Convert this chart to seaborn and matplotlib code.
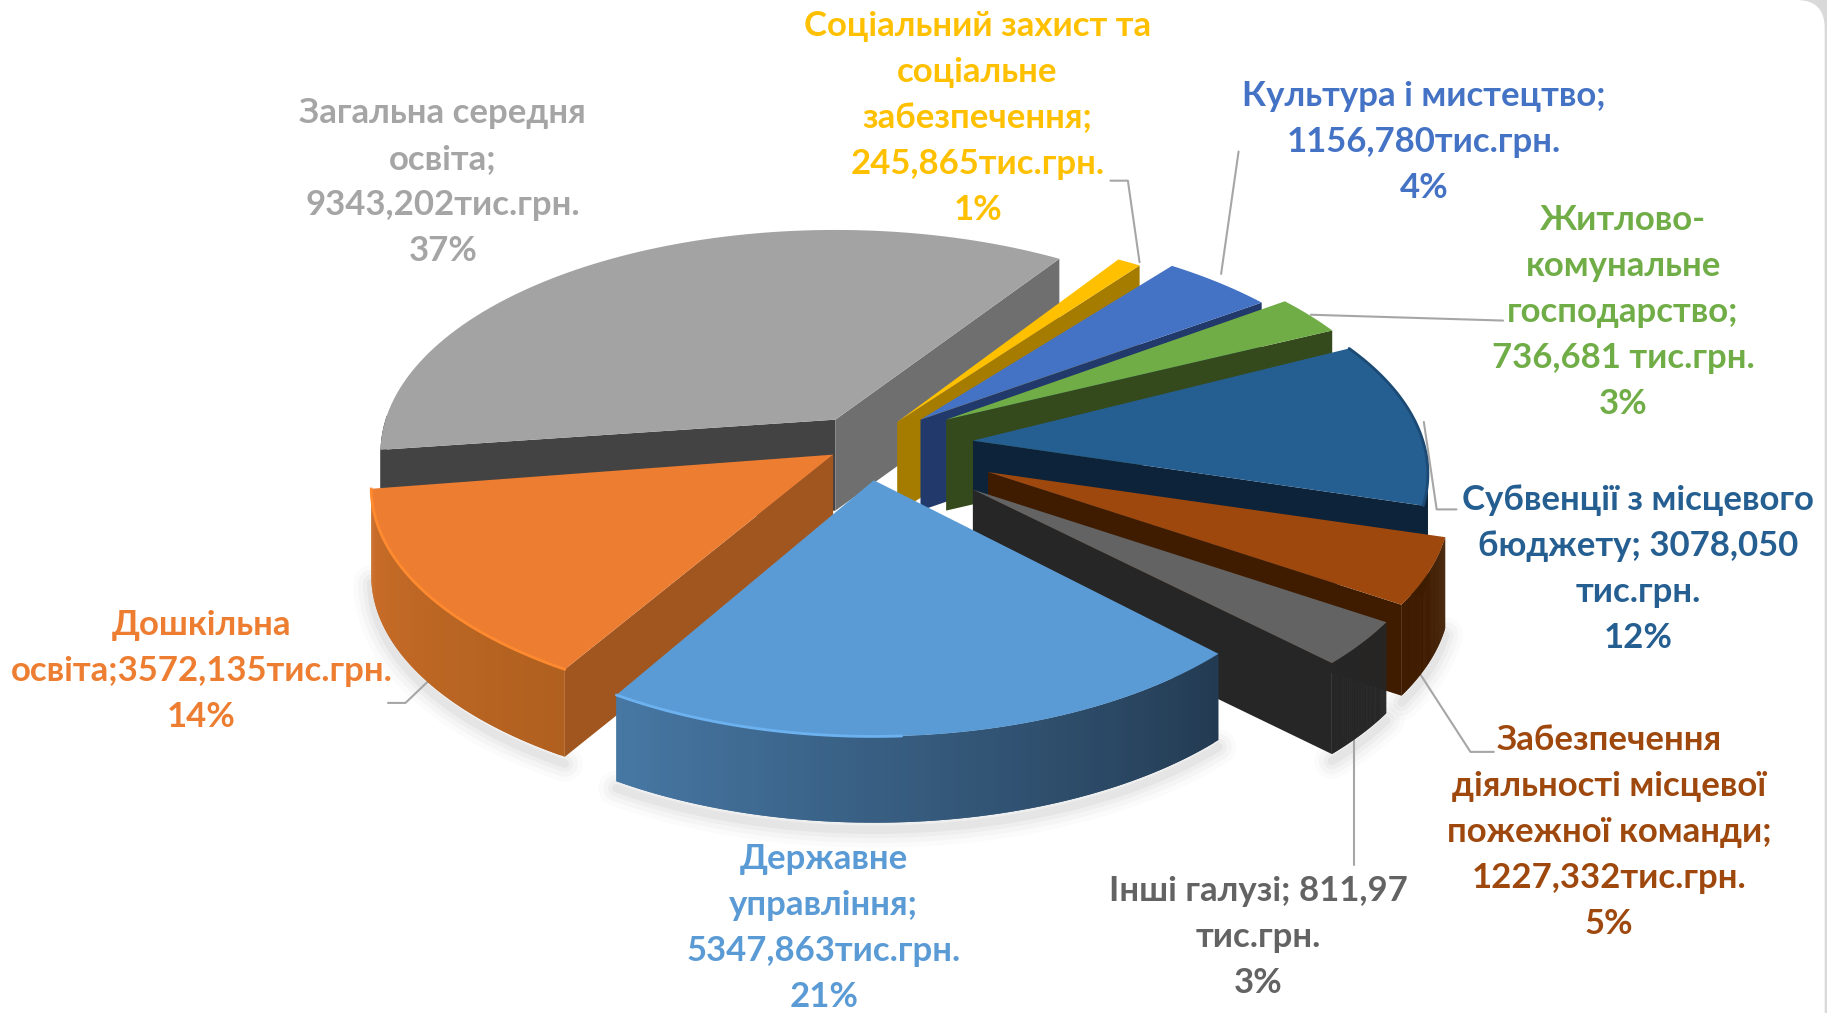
"""Exploded 3D-look pie of the budget spending."""
import numpy as np
import matplotlib
matplotlib.use("Agg")
import matplotlib.pyplot as plt
from matplotlib.patches import FancyBboxPatch
import seaborn as sns

# clockwise from the top right
names = ["Соціальний захист", "Культура", "Житлово-комунальне", "Субвенції", "Пожежна команда",
         "Інші галузі", "Державне управління", "Дошкільна освіта", "Загальна середня освіта"]
values = [245.865, 1156.780, 736.681, 3078.050, 1227.332, 811.97, 5347.863, 3572.135, 9343.202]
labels = [
    "Соціальний захист та\nсоціальне\nзабезпечення;\n245,865тис.грн.\n1%",
    "Культура і мистецтво;\n1156,780тис.грн.\n4%",
    "Житлово-\nкомунальне\nгосподарство;\n736,681 тис.грн.\n3%",
    "Субвенції з місцевого\nбюджету; 3078,050\nтис.грн.\n12%",
    "Забезпечення\nдіяльності місцевої\nпожежної команди;\n1227,332тис.грн.\n5%",
    "Інші галузі; 811,97\nтис.грн.\n3%",
    "Державне\nуправління;\n5347,863тис.грн.\n21%",
    "Дошкільна\nосвіта;3572,135тис.грн.\n14%",
    "Загальна середня\nосвіта;\n9343,202тис.грн.\n37%",
]

# styles, same order as values
top_colors = sns.color_palette(["#FFC000", "#4472C4", "#70AD47", "#255E91", "#9E480E",
                                "#636363", "#5B9BD5", "#ED7D31", "#A3A3A3"])
wall_lo = ["#A67C00", "#22396B", "#344A1C", "#0D2339", "#3F1C00",
           "#262626", "#243D54", "#A0561E", "#6F6F6F"]
wall_hi = ["#A67C00", "#22396B", "#344A1C", "#0D2339", "#3F1C00",
           "#262626", "#243D54", "#A0561E", "#434343"]
outer_left = ["#A67C00", "#22396B", "#344A1C", "#0D2339", "#3F1C00",
              "#262626", "#4778A5", "#CC6E2A", "#434343"]
outer_right = ["#A67C00", "#22396B", "#344A1C", "#0D2339", "#3F1C00",
               "#262626", "#233B52", "#B0601F", "#434343"]
rim_colors = [None, None, None, "#1B4A75", None, None, "#6DB2F0", "#FF8A30", None]
rim_part = [0, 0, 0, 1, 0, 0, 0.45, 1, 0]
explode_x = [10, 30, 52, 75, 88, 75, -10, -45, -43]
explode_y = [-13, -15, -15, 3, 30, 45, 37, 15, -15]
turn = [0, -1.5, -1, 0, 0, 0, 0, 0, -1]
width = [1, 1, 1, 0.985, 1, 1, 0.96, 1, 0.985]
depth = [78, 78, 78, 78, 78, 78, 74, 75, 78]
label_x = [839, 1222, 1393, 1406, 1381, 1080, 707, 173, 380]
label_y = [101, 122, 268, 488, 714, 804, 796, 576, 156]
leaders = [
    ([953, 968, 978], [155, 155, 225]),
    ([1063, 1048], [130, 235]),
    ([1290, 1125], [275, 270]),
    ([1250, 1233, 1222], [437, 437, 362]),
    ([1282, 1262, 1218], [645, 645, 577]),
    ([1162, 1162], [742, 635]),
    ([333, 348, 370], [603, 603, 582]),
]

CX, CY = 760, 375  # middle of the pie before the slices are pulled out
R, K, P = 392, 187, 0.149  # ellipse size and perspective
START = 57
draw_order = [8, 0, 1, 2, 3, 4, 5, 7, 6]


def project(th, w=1):
    xx = np.cos(np.radians(th))
    yy = np.sin(np.radians(th))
    d = 1 + P * yy
    return w * R * xx / d, -K * yy / d


sns.set_theme(style="white")
plt.rcParams["font.family"] = ["Lato", "Open Sans", "DejaVu Sans"]

fig = plt.figure(figsize=(18.27, 10.13), dpi=100, facecolor="#D9D9D9")
ax = fig.add_axes([0, 0, 1, 1])
ax.set_xlim(0, 1568)
ax.set_ylim(869, 0)
ax.axis("off")
ax.add_patch(FancyBboxPatch((-60, 0), 1626, 930, boxstyle="round,pad=0,rounding_size=24",
                            fc="white", ec="none", zorder=0))

shares = np.array(values) / np.sum(values) * 360
ends = START - np.cumsum(shares) + np.array(turn)
starts = ends + shares

# soft shadow under the front slices
for i in [4, 5, 6, 7]:
    th = np.linspace(starts[i], ends[i], 80)
    sx, sy = project(th, width[i])
    for lw, al in [(26, 0.02), (19, 0.03), (12, 0.04), (6, 0.06)]:
        ax.plot(CX + explode_x[i] + sx, CY + explode_y[i] + sy + depth[i] + 6, color="#555555",
                lw=lw, alpha=al, solid_capstyle="round", zorder=1)

z = 2
for i in draw_order:
    ax0 = CX + explode_x[i]
    ay0 = CY + explode_y[i]
    hi, lo = starts[i], ends[i]
    dp = depth[i]
    th = np.linspace(hi, lo, 90)
    sx, sy = project(th, width[i])

    # side walls, only those turned to the viewer
    hi_x, hi_y = project(hi, width[i])
    lo_x, lo_y = project(lo, width[i])
    if np.cos(np.radians(hi)) < 0:
        ax.fill([ax0, ax0 + hi_x, ax0 + hi_x, ax0], [ay0, ay0 + hi_y, ay0 + hi_y + dp, ay0 + dp],
                color=wall_hi[i], lw=0, zorder=z)
    if np.cos(np.radians(lo)) > 0:
        ax.fill([ax0, ax0 + lo_x, ax0 + lo_x, ax0], [ay0, ay0 + lo_y, ay0 + lo_y + dp, ay0 + dp],
                color=wall_lo[i], lw=0, zorder=z)

    # outer wall in thin strips for the gradient
    front = np.sin(np.radians(th)) < 0.03
    if front.sum() > 1:
        fx, fy = sx[front], sy[front]
        n = len(fx)
        strips = sns.blend_palette([outer_right[i], outer_left[i]], n)  # th runs right to left
        for k in range(n - 1):
            k2 = min(k + 2, n - 1)  # overlap so no seams show
            ax.fill([ax0 + fx[k], ax0 + fx[k2], ax0 + fx[k2], ax0 + fx[k]],
                    [ay0 + fy[k], ay0 + fy[k2], ay0 + fy[k2] + dp, ay0 + fy[k] + dp],
                    color=strips[k], lw=0, zorder=z)

    ax.fill(np.r_[ax0, ax0 + sx], np.r_[ay0, ay0 + sy], color=top_colors[i], lw=0, zorder=z + 0.5)
    if rim_colors[i]:
        skip = int(len(sx) * (1 - rim_part[i]))
        ax.plot(ax0 + sx[skip:], ay0 + sy[skip:], color=rim_colors[i], lw=2, zorder=z + 0.6)
    z += 1

for xs, ys in leaders:
    ax.plot(xs, ys, color="#A6A6A6", lw=1.5, zorder=1.5)

for i, text in enumerate(labels):
    ax.text(label_x[i], label_y[i], text, color=top_colors[i] if i != 8 else "#A5A5A5",
            ha="center", va="center", fontsize=25, fontweight="bold", linespacing=1.54, zorder=50)

fig.savefig("out.png", dpi=100, facecolor=fig.get_facecolor())
